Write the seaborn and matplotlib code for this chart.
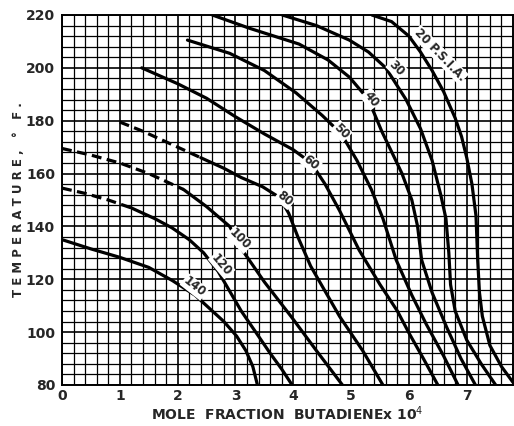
import matplotlib
matplotlib.use("Agg")
import matplotlib.pyplot as plt
import seaborn as sns
import numpy as np
import pandas as pd

# isobars: mole fraction butadiene x 10^4 vs temperature (F), pressure in psia
# (dashed = extrapolated part)
p20_x = [5.36, 5.7, 6.0, 6.2, 6.4, 6.6, 6.8, 6.91, 7.0, 7.09, 7.16, 7.19, 7.22, 7.27, 7.4, 7.6, 7.8]
p20_t = [220, 217.5, 212, 206, 199, 191, 181, 174, 166, 156, 144, 127, 115, 106, 95, 87, 81]
p30_x = [3.81, 4.4, 4.97, 5.3, 5.6, 5.95, 6.2, 6.4, 6.55, 6.64, 6.69, 6.72, 6.8, 7.0, 7.25, 7.5]
p30_t = [220, 216, 210.5, 206, 200, 188, 177, 165, 152, 143, 130, 118, 108, 97, 88, 80]
p40_x = [2.6, 3.24, 4.1, 4.6, 4.97, 5.3, 5.53, 5.75, 5.88, 6.05, 6.15, 6.22, 6.4, 6.65, 6.9, 7.15]
p40_t = [220, 215, 209, 203, 196.5, 188, 176, 166, 160, 150, 140, 127.3, 115, 102, 90, 80]
p50_x = [2.17, 2.9, 3.5, 4.05, 4.5, 4.83, 5.1, 5.35, 5.55, 5.78, 6.05, 6.3, 6.6, 6.85]
p50_t = [210.5, 205.5, 199, 190.5, 182, 175, 165, 154, 143, 127.3, 114, 103, 91, 80]
p60_x = [1.38, 2.0, 2.5, 3.0, 3.5, 4.0, 4.31, 4.55, 4.8, 5.14, 5.5, 5.8, 6.0, 6.25, 6.5]
p60_t = [200, 194, 188.5, 181.5, 175, 169, 164, 156, 146, 131, 118, 108, 99.7, 90, 80]
p80_dash_x = [1.0, 1.4, 1.9, 2.4]
p80_dash_t = [179.5, 176, 171, 166]
p80_x = [2.4, 2.8, 3.1, 3.47, 3.76, 3.92, 4.08, 4.3, 4.8, 5.2, 5.55]
p80_t = [166, 162, 158.5, 155, 151, 145, 136, 125, 106, 93, 80]
p100_dash_x = [0.0, 0.5, 1.0, 1.5, 2.1]
p100_dash_t = [169.5, 167, 164, 160, 154]
p100_x = [2.1, 2.5, 2.9, 3.12, 3.5, 3.97, 4.4, 4.85]
p100_t = [154, 147.5, 140, 131, 119, 105.7, 93, 80]
p120_dash_x = [0.0, 0.4, 0.8, 1.2]
p120_dash_t = [154.5, 152.5, 150, 147]
p120_x = [1.2, 1.6, 1.9, 2.2, 2.45, 2.7, 2.9, 3.1, 3.36, 3.6, 3.8, 3.98]
p120_t = [147, 143, 139.5, 135, 130, 123, 115.5, 108, 99.7, 92, 86, 80]
p140_x = [0.0, 0.5, 1.0, 1.5, 1.91, 2.3, 2.55, 2.8, 3.02, 3.18, 3.3, 3.38]
p140_t = [135, 131.5, 128.3, 124.5, 119.5, 114, 109, 104, 98.5, 93, 87, 80]

segments = [
    ("20", "solid", p20_x, p20_t),
    ("30", "solid", p30_x, p30_t),
    ("40", "solid", p40_x, p40_t),
    ("50", "solid", p50_x, p50_t),
    ("60", "solid", p60_x, p60_t),
    ("80", "dashed", p80_dash_x, p80_dash_t),
    ("80", "solid", p80_x, p80_t),
    ("100", "dashed", p100_dash_x, p100_dash_t),
    ("100", "solid", p100_x, p100_t),
    ("120", "dashed", p120_dash_x, p120_dash_t),
    ("120", "solid", p120_x, p120_t),
    ("140", "solid", p140_x, p140_t),
]
rows = []
for i, (p, part, xs, ts) in enumerate(segments):
    for x, t in zip(xs, ts):
        rows.append({"x": x, "T": t, "psia": p, "part": part, "seg": i})
df = pd.DataFrame(rows)

sns.set_style("white")
plt.rcParams['font.family'] = ['DejaVu Sans']

fig = plt.figure(figsize=(5.14, 4.26), dpi=100)
ax = fig.add_axes([62 / 514, 1 - 385 / 426, 451 / 514, 370 / 426])

sns.lineplot(data=df, x="x", y="T", units="seg", estimator=None, sort=False,
             style="part", dashes={"solid": "", "dashed": (3.1, 1.7)},
             color="black", linewidth=2.3, legend=False, ax=ax, zorder=3)

ax.set_xlim(0, 7.8)
ax.set_ylim(80, 220)
ax.set_xticks(np.arange(0, 8, 1))
ax.set_xticks(np.arange(0, 7.81, 0.2), minor=True)
ax.set_yticks(np.arange(80, 221, 20))
ax.set_yticks(np.arange(80, 221, 4), minor=True)
ax.grid(which="major", color="black", linewidth=1.2, zorder=1)
ax.grid(which="minor", color="black", linewidth=0.9, zorder=1)
ax.tick_params(which="both", length=0, labelsize=10)
ax.tick_params(axis="x", pad=3)
ax.tick_params(axis="y", pad=5)
for lab in ax.get_xticklabels() + ax.get_yticklabels():
    lab.set_fontweight("bold")
for s in ax.spines.values():
    s.set_color("black")
    s.set_linewidth(1.4)

ax.set_xlabel("MOLE  FRACTION  BUTADIENEx 10$^{4}$",
              fontsize=10, fontweight="bold", labelpad=1)
ax.set_ylabel("T E M P E R A T U R E ,   °   F .", fontsize=8.5,
              fontweight="bold", labelpad=1)

labels = [
    ("140", 2.29, 117.1, -38),
    ("120", 2.76, 125.5, -50),
    ("100", 3.07, 135.0, -45),
    ("80", 3.86, 150.5, -40),
    ("60", 4.31, 164.0, -40),
    ("50", 4.83, 176.0, -45),
    ("40", 5.34, 188.2, -52),
    ("30", 5.79, 199.9, -45),
    ("20 P.S.I.A.", 6.53, 205.0, -46),
]
for txt, x, t, rot in labels:
    ax.text(x, t, txt, rotation=rot, ha="center", va="center", fontsize=8.5,
            fontweight="bold", zorder=5,
            bbox=dict(facecolor="white", edgecolor="none", pad=0.6))

fig.savefig("out.png", dpi=100)
